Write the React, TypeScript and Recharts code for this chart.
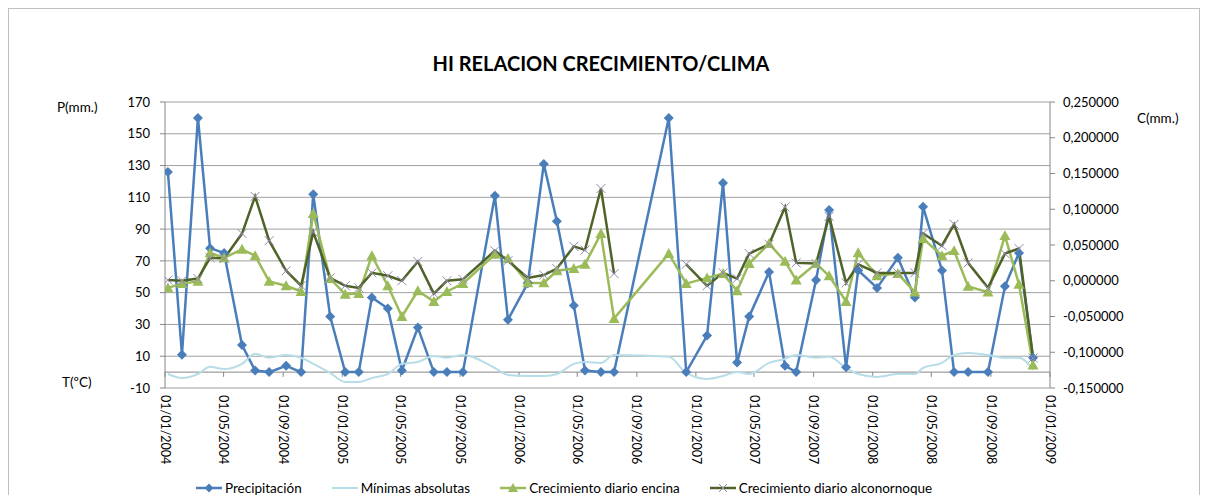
import { CartesianGrid, Line, LineChart, ReferenceLine, XAxis, YAxis } from "recharts";

const fechas = [
  "2004-01-07", "2004-02-05", "2004-03-09", "2004-04-03", "2004-05-02", "2004-06-08",
  "2004-07-05", "2004-08-03", "2004-09-07", "2004-10-08", "2004-11-02", "2004-12-07",
  "2005-01-07", "2005-02-04", "2005-03-03", "2005-04-05", "2005-05-04", "2005-06-06",
  "2005-07-09", "2005-08-05", "2005-09-07", "2005-11-12", "2005-12-09", "2006-01-19",
  "2006-02-21", "2006-03-20", "2006-04-24", "2006-05-17", "2006-06-19", "2006-07-16",
  "2006-11-06", "2006-12-12", "2007-01-24", "2007-02-26", "2007-03-27", "2007-04-21",
  "2007-06-01", "2007-07-04", "2007-07-27", "2007-09-06", "2007-10-03", "2007-11-07",
  "2007-12-02", "2008-01-10", "2008-02-22", "2008-03-28", "2008-04-14", "2008-05-23",
  "2008-06-17", "2008-07-16", "2008-08-26", "2008-09-30", "2008-10-29", "2008-11-27",
];

const precipitacion = [
  126, 11, 160, 78, 75, 17, 1, 0, 4, 0,
  112, 35, 0, 0, 47, 40, 1, 28, 0, 0,
  0, 111, 33, 56, 131, 95, 42, 1, 0, 0,
  160, 0, 23, 119, 6, 35, 63, 4, 0, 58,
  102, 3, 64, 53, 72, 47, 104, 64, 0, 0,
  0, 54, 75, 9,
];

const minimas = [
  -1.2, -3.7, -1.2, 3.3, 2, 5.2, 11.5, 9, 10.8, 9,
  5.2, -0.5, -6.2, -6.2, -3.7, -1.2, 5.2, 6.4, 10.2, 9,
  10.8, 2.6, -1.8, -2.4, -2.4, -1.2, 5.2, 6.4, 5.8, 10.8,
  9.6, -0.5, -4.3, -2.4, 0.1, -1.2, 5.8, 8.3, 10.8, 9,
  9.6, 2.6, -1.2, -3, -1.2, -1.2, 2.6, 5.8, 10.8, 12,
  10.8, 9, 9, 1.4,
];

const encina = [
  -0.01, -0.004, -0.001, 0.039, 0.032, 0.044, 0.035, -0.001, -0.007, -0.015,
  0.094, 0.003, -0.019, -0.018, 0.035, -0.007, -0.05, -0.014, -0.029, -0.015,
  -0.004, 0.037, 0.031, -0.003, -0.003, 0.014, 0.017, 0.023, 0.066, -0.053,
  0.038, -0.004, 0.004, 0.01, -0.014, 0.024, 0.052, 0.027, 0.001, 0.024,
  0.007, -0.029, 0.039, 0.007, 0.01, -0.016, 0.059, 0.035, 0.042, -0.008,
  -0.016, 0.063, -0.005, -0.118,
];

const alcornoque = [
  0.001, 0, 0.003, 0.032, 0.031, 0.066, 0.118, 0.056, 0.014, -0.007,
  0.068, 0.004, -0.007, -0.01, 0.011, 0.007, 0, 0.027, -0.018, 0,
  0.002, 0.042, 0.028, 0.004, 0.008, 0.017, 0.048, 0.043, 0.129, 0.01,
  null, 0.023, -0.007, 0.011, 0.003, 0.038, 0.051, 0.103, 0.025, 0.024,
  0.09, -0.003, 0.023, 0.011, 0.011, 0.011, 0.066, 0.049, 0.079, 0.025,
  -0.01, 0.038, 0.045, -0.108,
];

const tickFechas = [
  "2004-01-01", "2004-05-01", "2004-09-01", "2005-01-01", "2005-05-01", "2005-09-01",
  "2006-01-01", "2006-05-01", "2006-09-01", "2007-01-01", "2007-05-01", "2007-09-01",
  "2008-01-01", "2008-05-01", "2008-09-01", "2009-01-01",
];
const ticksP = [-10, 10, 30, 50, 70, 90, 110, 130, 150, 170];
const ticksC = [-0.15, -0.1, -0.05, 0, 0.05, 0.1, 0.15, 0.2, 0.25];

const FONT = "Lato, 'Open Sans', sans-serif";
const AZUL = "#4a7ebb";
const CELESTE = "#b7dde8";
const VERDE = "#9bbb59";
const OLIVA = "#4f6228";
const GRIS = "#868686";

const toTime = (s: string) => {
  const [y, m, d] = s.split("-").map(Number);
  return Date.UTC(y, m - 1, d);
};
const pad = (n: number) => String(n).padStart(2, "0");
const fmtFecha = (t: number) => {
  const d = new Date(t);
  return `${pad(d.getUTCDate())}/${pad(d.getUTCMonth() + 1)}/${d.getUTCFullYear()}`;
};

const data = fechas.map((f, i) => ({
  t: toTime(f),
  precipitacion: precipitacion[i],
  minimas: minimas[i],
  encina: encina[i],
  alcornoque: alcornoque[i],
}));
const xTicks = tickFechas.map(toTime);

function FechaTick({ x, y, payload }: any) {
  const ty = y + 7;
  return (
    <text
      x={x}
      y={ty}
      transform={`rotate(90 ${x} ${ty})`}
      dy="0.35em"
      textAnchor="start"
      fontSize={12.5}
      fontFamily={FONT}
      fill="#000"
    >
      {fmtFecha(payload.value)}
    </text>
  );
}

const diamond = (cx: number, cy: number, r = 5) =>
  `M${cx},${cy - r} L${cx + r},${cy} L${cx},${cy + r} L${cx - r},${cy} Z`;
const triangle = (cx: number, cy: number, r = 5.5) =>
  `M${cx},${cy - r} L${cx + r},${cy + r * 0.8} L${cx - r},${cy + r * 0.8} Z`;
const cross = (cx: number, cy: number, r = 4.5) =>
  `M${cx - r},${cy - r} L${cx + r},${cy + r} M${cx - r},${cy + r} L${cx + r},${cy - r}`;

function DiamondDot(p: any) {
  if (p.cx == null || p.cy == null || p.value == null) return <g key={`p-${p.index}`} />;
  return <path key={`p-${p.index}`} d={diamond(p.cx, p.cy)} fill={AZUL} />;
}
function TriangleDot(p: any) {
  if (p.cx == null || p.cy == null || p.value == null) return <g key={`e-${p.index}`} />;
  return <path key={`e-${p.index}`} d={triangle(p.cx, p.cy)} fill={VERDE} />;
}
function CrossDot(p: any) {
  if (p.cx == null || p.cy == null || p.value == null) return <g key={`a-${p.index}`} />;
  return <path key={`a-${p.index}`} d={cross(p.cx, p.cy)} stroke="#9288b2" strokeWidth={1} fill="none" />;
}

const leyenda = [
  { name: "Precipitación", color: AZUL, marker: "diamond" },
  { name: "Mínimas absolutas", color: CELESTE, marker: "none" },
  { name: "Crecimiento diario encina", color: VERDE, marker: "triangle" },
  { name: "Crecimiento diario alconornoque", color: OLIVA, marker: "cross" },
];

function LegendItem({ name, color, marker }: { name: string; color: string; marker: string }) {
  return (
    <div style={{ display: "flex", alignItems: "center", gap: 3 }}>
      <svg width={26} height={12}>
        <line x1={0} y1={6} x2={26} y2={6} stroke={color} strokeWidth={marker === "none" ? 2 : 2.5} />
        {marker === "diamond" && <path d={diamond(13, 6, 4.5)} fill={AZUL} />}
        {marker === "triangle" && <path d={triangle(13, 6, 5)} fill={VERDE} />}
        {marker === "cross" && <path d={cross(13, 6, 4)} stroke="#9288b2" strokeWidth={1} fill="none" />}
      </svg>
      <span>{name}</span>
    </div>
  );
}

export default function App() {
  return (
    <div
      style={{
        position: "relative",
        width: 1190,
        height: 486,
        border: "1px solid #bfbfbf",
        borderBottom: "none",
        fontFamily: FONT,
        color: "#000",
        background: "#fff",
      }}
    >
      <style>{"html,body{overflow:hidden}"}</style>
      <div
        style={{
          position: "absolute",
          top: 42,
          left: 0,
          width: 1184,
          textAlign: "center",
          fontSize: 20,
          fontWeight: 700,
          lineHeight: "24px",
        }}
      >
        HI RELACION CRECIMIENTO/CLIMA
      </div>
      <div style={{ position: "absolute", left: 48, top: 90, fontSize: 13.5, lineHeight: "16px" }}>P(mm.)</div>
      <div style={{ position: "absolute", left: 53, top: 365, fontSize: 13.5, lineHeight: "16px" }}>T(ºC)</div>
      <div style={{ position: "absolute", left: 1128, top: 101, fontSize: 13.5, lineHeight: "16px" }}>C(mm.)</div>

      <LineChart width={1190} height={486} data={data} margin={{ top: 93, right: 0, left: 0, bottom: 27 }}>
        <CartesianGrid yAxisId="left" vertical={false} stroke="#a0a0a0" />
        <XAxis
          dataKey="t"
          type="number"
          domain={[xTicks[0], xTicks[xTicks.length - 1]]}
          ticks={xTicks}
          interval={0}
          allowDataOverflow
          axisLine={false}
          tickLine={false}
          tickSize={0}
          tickMargin={0}
          height={80}
          tick={<FechaTick />}
        />
        <YAxis
          yAxisId="left"
          domain={[-10, 170]}
          ticks={ticksP}
          interval={0}
          width={156}
          stroke={GRIS}
          tickSize={5}
          tickMargin={10}
          tick={{ fill: "#000", fontSize: 13, fontFamily: FONT }}
        />
        <YAxis
          yAxisId="right"
          orientation="right"
          domain={[-0.15, 0.25]}
          ticks={ticksC}
          interval={0}
          width={149}
          stroke={GRIS}
          tickSize={5}
          tickMargin={8}
          tick={{ fill: "#000", fontSize: 13, fontFamily: FONT, textAnchor: "start" }}
          tickFormatter={(v: number) => v.toFixed(6).replace(".", ",")}
        />
        <ReferenceLine yAxisId="left" y={0} stroke={GRIS} strokeWidth={1} />
        {xTicks.map((t) => (
          <ReferenceLine
            key={t}
            yAxisId="left"
            segment={[
              { x: t, y: 0 },
              { x: t, y: -3 },
            ]}
            stroke={GRIS}
          />
        ))}
        <Line
          yAxisId="left"
          dataKey="precipitacion"
          stroke={AZUL}
          strokeWidth={2.5}
          dot={DiamondDot}
          isAnimationActive={false}
        />
        <Line
          yAxisId="left"
          type="monotone"
          dataKey="minimas"
          stroke={CELESTE}
          strokeWidth={2}
          dot={false}
          isAnimationActive={false}
        />
        <Line
          yAxisId="right"
          dataKey="encina"
          stroke={VERDE}
          strokeWidth={2.5}
          dot={TriangleDot}
          isAnimationActive={false}
        />
        <Line
          yAxisId="right"
          dataKey="alcornoque"
          stroke={OLIVA}
          strokeWidth={2.5}
          dot={CrossDot}
          isAnimationActive={false}
        />
      </LineChart>

      <div
        style={{
          position: "absolute",
          left: 187,
          top: 471,
          display: "flex",
          gap: 30,
          fontSize: 13.5,
          lineHeight: "16px",
        }}
      >
        {leyenda.map((l) => (
          <LegendItem key={l.name} {...l} />
        ))}
      </div>
    </div>
  );
}
